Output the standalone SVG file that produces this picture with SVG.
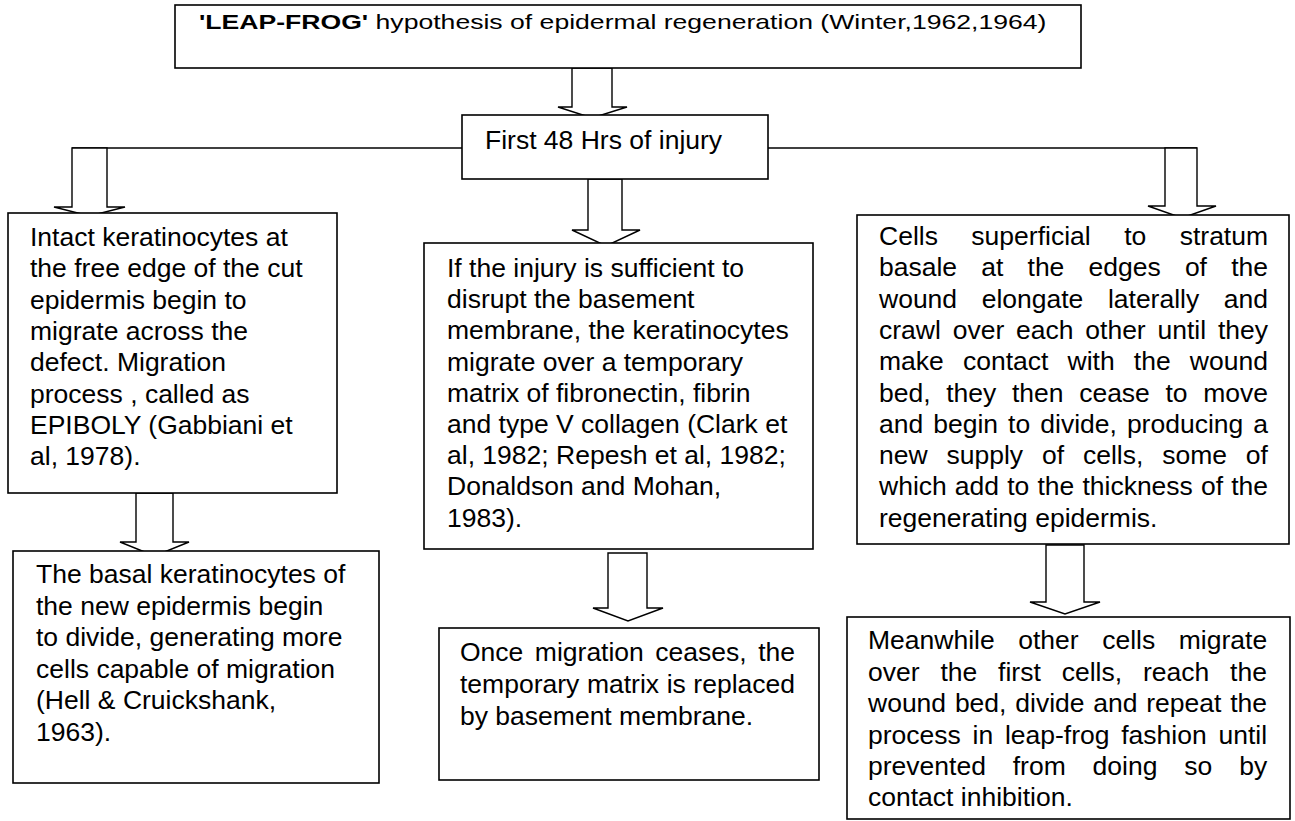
<svg xmlns="http://www.w3.org/2000/svg" width="1295" height="821" viewBox="0 0 1295 821">
  <style>
    .box { fill: #fff; stroke: #000; stroke-width: 1.6; }
    .arrow { fill: #fff; stroke: #000; stroke-width: 1.4; stroke-linejoin: miter; }
    .wire { fill: none; stroke: #000; stroke-width: 1.4; }
    .t { font-family: "Liberation Sans", Arial, sans-serif; font-size: 26.5px; fill: #000; }
    .title { font-family: "Liberation Sans", Arial, sans-serif; font-size: 20.5px; fill: #000; }
  </style>
  <rect width="1295" height="821" fill="#fff"/>

  <!-- connectors: branch line and block arrows -->
  <g id="connectors">
    <line class="wire" x1="72" y1="148" x2="462" y2="148"/>
    <line class="wire" x1="768" y1="148" x2="1197" y2="148"/>
    <!-- title -> first 48 hrs -->
    <polygon class="arrow" points="572,68 612,68 612,107 627,107 592,118 558,107 572,107"/>
    <!-- branch -> left column -->
    <polygon class="arrow" points="72,148 107,148 107,207 125,207 89.5,216 54,207 72,207"/>
    <!-- first 48 hrs -> middle column -->
    <polygon class="arrow" points="588,179 622,179 622,230 640,230 606,246 572,230 588,230"/>
    <!-- branch -> right column -->
    <polygon class="arrow" points="1165,148 1197,148 1197,206 1216,206 1182,218 1148,206 1165,206"/>
    <!-- left column step -->
    <polygon class="arrow" points="136,493 173,493 173,542 189,542 154.5,556 120,542 136,542"/>
    <!-- middle column step -->
    <polygon class="arrow" points="608,553 647,553 647,608 663,608 628,621 593,608 608,608"/>
    <!-- right column step -->
    <polygon class="arrow" points="1046,545 1084,545 1084,602 1100,602 1065,614 1030,602 1046,602"/>
  </g>

  <g id="node-title">
    <rect class="box" x="175" y="5" width="906" height="63"/>
    <text class="title" transform="translate(199 29) scale(1.297 1)"><tspan font-weight="bold">'LEAP-FROG'</tspan> hypothesis of epidermal regeneration (Winter,1962,1964)</text>
  </g>

  <g id="node-first48">
    <rect class="box" x="462" y="115" width="306" height="64"/>
    <text class="t" x="485" y="149">First 48 Hrs of injury</text>
  </g>

  <g id="node-epiboly">
    <rect class="box" x="8" y="213" width="329" height="280"/>
    <text class="t">
      <tspan x="30" y="246">Intact keratinocytes at</tspan>
      <tspan x="30" y="277.3">the free edge of the cut</tspan>
      <tspan x="30" y="308.6">epidermis begin to</tspan>
      <tspan x="30" y="339.9">migrate across the</tspan>
      <tspan x="30" y="371.2">defect. Migration</tspan>
      <tspan x="30" y="402.5">process , called as</tspan>
      <tspan x="30" y="433.8">EPIBOLY (Gabbiani et</tspan>
      <tspan x="30" y="465.1">al, 1978).</tspan>
    </text>
  </g>

  <g id="node-matrix">
    <rect class="box" x="424" y="243" width="389" height="306"/>
    <text class="t">
      <tspan x="447" y="277">If the injury is sufficient to</tspan>
      <tspan x="447" y="308.2">disrupt the basement</tspan>
      <tspan x="447" y="339.4">membrane, the keratinocytes</tspan>
      <tspan x="447" y="370.6">migrate over a temporary</tspan>
      <tspan x="447" y="401.8">matrix of fibronectin, fibrin</tspan>
      <tspan x="447" y="433">and type V collagen (Clark et</tspan>
      <tspan x="447" y="464.2">al, 1982; Repesh et al, 1982;</tspan>
      <tspan x="447" y="495.4">Donaldson and Mohan,</tspan>
      <tspan x="447" y="526.6">1983).</tspan>
    </text>
  </g>

  <g id="node-superficial">
    <rect class="box" x="857" y="215" width="432" height="329"/>
    <text class="t">
      <tspan x="879" y="245" style="word-spacing:26.1px">Cells superficial to stratum</tspan>
      <tspan x="879" y="276.3" style="word-spacing:16.8px">basale at the edges of the</tspan>
      <tspan x="879" y="307.6" style="word-spacing:17.2px">wound elongate laterally and</tspan>
      <tspan x="879" y="338.9" style="word-spacing:4.45px">crawl over each other until they</tspan>
      <tspan x="879" y="370.2" style="word-spacing:11.8px">make contact with the wound</tspan>
      <tspan x="879" y="401.5" style="word-spacing:8.27px">bed, they then cease to move</tspan>
      <tspan x="879" y="432.8" style="word-spacing:2.67px">and begin to divide, producing a</tspan>
      <tspan x="879" y="464.1" style="word-spacing:11.5px">new supply of cells, some of</tspan>
      <tspan x="879" y="495.4" style="word-spacing:0.76px">which add to the thickness of the</tspan>
      <tspan x="879" y="526.7">regenerating epidermis.</tspan>
    </text>
  </g>

  <g id="node-divide">
    <rect class="box" x="13" y="551" width="366" height="232"/>
    <text class="t">
      <tspan x="36" y="583">The basal keratinocytes of</tspan>
      <tspan x="36" y="614.6">the new epidermis begin</tspan>
      <tspan x="36" y="646.2">to divide, generating more</tspan>
      <tspan x="36" y="677.8">cells capable of migration</tspan>
      <tspan x="36" y="709.4">(Hell &amp; Cruickshank,</tspan>
      <tspan x="36" y="741">1963).</tspan>
    </text>
  </g>

  <g id="node-basement">
    <rect class="box" x="439" y="628" width="380" height="152"/>
    <text class="t">
      <tspan x="460" y="661" style="word-spacing:4.15px">Once migration ceases, the</tspan>
      <tspan x="460" y="693" style="word-spacing:0.24px">temporary matrix is replaced</tspan>
      <tspan x="460" y="725">by basement membrane.</tspan>
    </text>
  </g>

  <g id="node-leapfrog">
    <rect class="box" x="847" y="617" width="443" height="202"/>
    <text class="t">
      <tspan x="868" y="649.3" style="word-spacing:16.2px">Meanwhile other cells migrate</tspan>
      <tspan x="868" y="680.7" style="word-spacing:13.5px">over the first cells, reach the</tspan>
      <tspan x="868" y="712.1" style="word-spacing:1.43px">wound bed, divide and repeat the</tspan>
      <tspan x="868" y="743.5" style="word-spacing:4.38px">process in leap-frog fashion until</tspan>
      <tspan x="868" y="774.9" style="word-spacing:19.5px">prevented from doing so by</tspan>
      <tspan x="868" y="806.3">contact inhibition.</tspan>
    </text>
  </g>
</svg>
